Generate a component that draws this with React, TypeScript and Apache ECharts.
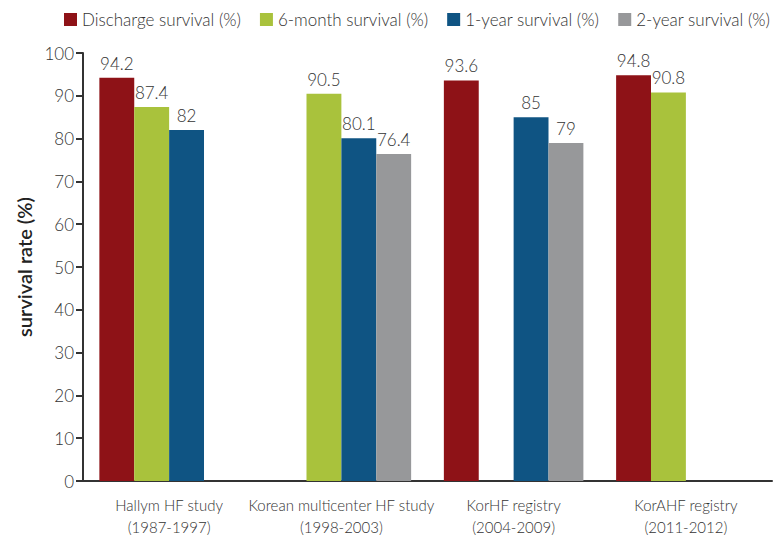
import React, { useEffect, useRef } from "react";
import * as echarts from "echarts";

const categories = [
  "Hallym HF study\n(1987-1997)",
  "Korean multicenter HF study\n(1998-2003)",
  "KorHF registry\n(2004-2009)",
  "KorAHF registry\n(2011-2012)",
];
const seriesNames = [
  "Discharge survival (%)",
  "6-month survival (%)",
  "1-year survival (%)",
  "2-year survival (%)",
];
const dischargeSurvival = [94.2, null, 93.6, 94.8];
const sixMonthSurvival = [87.4, 90.5, null, 90.8];
const oneYearSurvival = [82, 80.1, 85, null];
const twoYearSurvival = [null, 76.4, 79, null];
const yTicks = { min: 0, max: 100, interval: 10 };

const colors = ["#8e1217", "#a9c23c", "#0f5483", "#97989a"];
const FONT = "Lato";

export default function App() {
  const ref = useRef<HTMLDivElement>(null);
  useEffect(() => {
    if (!ref.current) return;
    const chart = echarts.init(ref.current, undefined, { renderer: "svg" });
    const allData = [dischargeSurvival, sixMonthSurvival, oneYearSurvival, twoYearSurvival];
    chart.setOption({
      animation: false,
      textStyle: { fontFamily: FONT },
      legend: {
        left: 59,
        top: 6,
        itemWidth: 13,
        itemHeight: 13,
        itemGap: 19,
        icon: "rect",
        textStyle: { fontSize: 17, color: "#333", fontFamily: FONT, fontWeight: 300 },
        data: seriesNames,
      },
      grid: { left: 83, right: 12, top: 53, bottom: 61 },
      xAxis: {
        type: "category",
        data: categories,
        axisLine: { lineStyle: { color: "#333", width: 2 } },
        axisTick: { show: false },
        axisLabel: {
          color: "#333",
          fontSize: 15,
          lineHeight: 22,
          margin: 13,
          fontFamily: FONT,
          fontWeight: 300,
          interval: 0,
        },
      },
      yAxis: {
        type: "value",
        min: yTicks.min,
        max: yTicks.max,
        interval: yTicks.interval,
        name: "survival rate (%)",
        nameLocation: "middle",
        nameGap: 41,
        nameTextStyle: { fontSize: 20, fontWeight: 600, color: "#222", fontFamily: FONT },
        axisLine: { show: true, lineStyle: { color: "#333", width: 2 } },
        axisTick: { show: true, length: 7, lineStyle: { color: "#333", width: 2 } },
        axisLabel: { color: "#333", fontSize: 17, margin: 9, fontFamily: FONT, fontWeight: 300 },
        splitLine: { show: false },
      },
      series: seriesNames.map((name, i) => ({
        name,
        type: "bar",
        data: allData[i],
        barGap: "0%",
        barCategoryGap: "19%",
        itemStyle: { color: colors[i] },
        label: {
          show: true,
          position: "top",
          distance: 6,
          color: "#333",
          fontSize: 17,
          fontFamily: FONT,
          fontWeight: 300,
        },
      })),
    });
    return () => chart.dispose();
  }, []);
  return <div ref={ref} style={{ width: 784, height: 542, position: "absolute", left: 0, top: 0 }} />;
}
